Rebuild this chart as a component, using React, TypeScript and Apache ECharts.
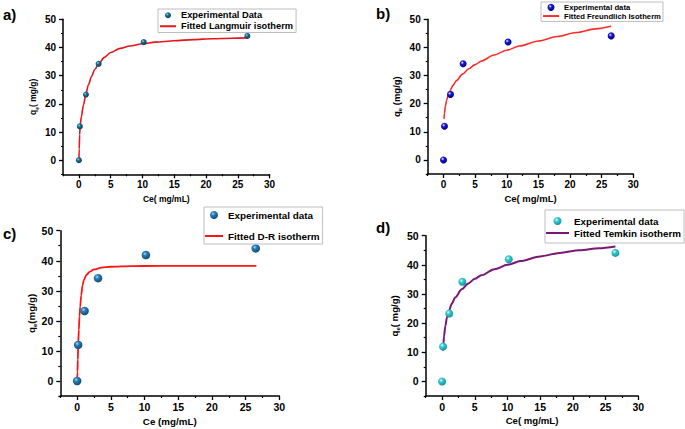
import React, { useEffect, useRef } from "react";
import * as echarts from "echarts";

// Experimental data (same in all four panels)
const ceExp = [0, 0.15, 1.1, 3.1, 10.2, 26.5];
const qeExp = [0, 12, 23.3, 34.2, 41.9, 44.1];

// Fitted curves
const langmuirCe = [0, 0.05, 0.12, 0.2, 0.4, 0.7, 1.1, 1.5, 2, 2.5, 3.1, 4, 5, 6.5, 8, 10, 12, 15, 18, 21, 24, 26.5];
const langmuirQe = [0, 4, 9, 12.5, 15.5, 19.5, 23.4, 26.8, 29.8, 32.2, 34.2, 36.5, 38.2, 39.7, 40.5, 41.3, 41.9, 42.4, 42.8, 43.1, 43.3, 43.4];

const freundlichCe = [0.08, 0.15, 0.3, 0.5, 0.75, 1, 1.5, 2, 3, 4, 5, 6, 8, 10, 12, 15, 18, 21, 24, 26.5];
const freundlichQe = [14.6, 16.6, 19.2, 21.2, 23.1, 24.5, 26.5, 28.1, 30.5, 32.4, 33.9, 35.2, 37.3, 39.0, 40.5, 42.3, 43.9, 45.3, 46.6, 47.5];

const drCe = [0, 0.05, 0.1, 0.15, 0.25, 0.35, 0.45, 0.6, 0.8, 1, 1.4, 1.9, 2.5, 3.6, 5, 8, 12, 18, 26.6];
const drQe = [0, 3, 7, 12, 17, 21.5, 24.7, 28.5, 31.8, 33.6, 35.4, 36.4, 37.1, 37.7, 38, 38.2, 38.3, 38.3, 38.3];

const temkinCe = [0.15, 0.2, 0.3, 0.5, 0.75, 1, 1.5, 2, 3, 4, 5, 6, 8, 10, 12, 15, 18, 21, 24, 26.5];
const temkinQe = [10.6, 12.6, 15.5, 19.0, 21.9, 23.9, 26.7, 28.8, 31.6, 33.6, 35.2, 36.4, 38.5, 40.0, 41.3, 42.9, 44.1, 45.0, 45.7, 46.3];

// Tick labels
const xMajorTicks = [0, 5, 10, 15, 20, 25, 30];
const xMinorTicks = [-2.5, 2.5, 7.5, 12.5, 17.5, 22.5, 27.5];
const yMajorTicks = [0, 10, 20, 30, 40, 50];
const yMinorTicks = [-5, 5, 15, 25, 35, 45];

const FONT = "'Liberation Sans', Arial, sans-serif";

type PanelCfg = {
  label: string;
  labelPos: [number, number];
  grid: { left: number; top: number; width: number; height: number };
  expName: string;
  fitName: string;
  fitCe: number[];
  fitQe: number[];
  marker: { size: number; hi: string; base: string; dark: string };
  lineColor: string;
  lineWidth: number;
  xName: string;
  xGap: number;
  yName: string;
  yGap: number;
  tickFont: number;
  nameFont: number;
  legend: {
    left: number;
    top: number;
    padding: number[];
    itemWidth: number;
    itemHeight: number;
    itemGap: number;
    fontSize: number;
    lineHeight: number;
    fontFamily?: string;
  };
};

function buildOption(p: PanelCfg) {
  const axisColor = "#000";
  const markerColor = new echarts.graphic.RadialGradient(0.38, 0.35, 0.65, [
    { offset: 0, color: p.marker.hi },
    { offset: 0.35, color: p.marker.base },
    { offset: 1, color: p.marker.dark },
  ]);
  const nameStyle = {
    fontFamily: FONT,
    fontWeight: "bold" as const,
    fontSize: p.nameFont,
    color: "#000",
  };
  return {
    animation: false,
    backgroundColor: "transparent",
    graphic: [
      {
        type: "text",
        left: p.labelPos[0],
        top: p.labelPos[1],
        style: { text: p.label, font: `bold 15px ${FONT}`, fill: "#000" },
      },
    ],
    grid: { ...p.grid, containLabel: false },
    legend: {
      orient: "vertical",
      left: p.legend.left,
      top: p.legend.top,
      padding: p.legend.padding,
      itemWidth: p.legend.itemWidth,
      itemHeight: p.legend.itemHeight,
      itemGap: p.legend.itemGap,
      borderColor: "#bdbdbd",
      borderWidth: 1,
      backgroundColor: "#fff",
      textStyle: {
        fontFamily: p.legend.fontFamily || FONT,
        fontWeight: "bold",
        fontSize: p.legend.fontSize,
        lineHeight: p.legend.lineHeight,
        color: "#000",
      },
      data: [
        { name: p.expName, icon: "circle" },
        { name: p.fitName, itemStyle: { opacity: 0 } },
      ],
    },
    xAxis: [
      {
        type: "value",
        min: -2.5,
        max: 30,
        position: "bottom",
        axisLine: { show: true, onZero: false, lineStyle: { color: axisColor, width: 1.5 } },
        axisTick: { show: true, customValues: xMajorTicks, length: 4, lineStyle: { color: axisColor, width: 1.3 } },
        axisLabel: {
          customValues: xMajorTicks,
          fontFamily: FONT,
          fontWeight: "bold",
          fontSize: p.tickFont,
          color: "#000",
          margin: 5,
        },
        splitLine: { show: false },
        name: p.xName,
        nameLocation: "middle",
        nameGap: p.xGap,
        nameTextStyle: nameStyle,
      },
      {
        type: "value",
        min: -2.5,
        max: 30,
        position: "bottom",
        axisLine: { show: false, onZero: false },
        axisTick: { show: true, customValues: xMinorTicks, length: 2, lineStyle: { color: axisColor, width: 1.2 } },
        axisLabel: { show: false },
        splitLine: { show: false },
      },
    ],
    yAxis: [
      {
        type: "value",
        min: -5,
        max: 50,
        position: "left",
        axisLine: { show: true, onZero: false, lineStyle: { color: axisColor, width: 1.5 } },
        axisTick: { show: true, customValues: yMajorTicks, length: 4, lineStyle: { color: axisColor, width: 1.3 } },
        axisLabel: {
          customValues: yMajorTicks,
          fontFamily: FONT,
          fontWeight: "bold",
          fontSize: p.tickFont,
          color: "#000",
          margin: 7,
        },
        splitLine: { show: false },
        name: p.yName,
        nameLocation: "middle",
        nameGap: p.yGap,
        nameRotate: 90,
        nameTextStyle: {
          ...nameStyle,
          rich: {
            n: { ...nameStyle, lineHeight: p.nameFont + 3 },
            s: {
              fontFamily: FONT,
              fontWeight: "bold",
              fontSize: Math.round(p.nameFont * 0.6),
              color: "#000",
              lineHeight: p.nameFont + 3,
              verticalAlign: "bottom",
              padding: [4, 0, 0, 0],
            },
          },
        },
      },
      {
        type: "value",
        min: -5,
        max: 50,
        position: "left",
        axisLine: { show: false, onZero: false },
        axisTick: { show: true, customValues: yMinorTicks, length: 2, lineStyle: { color: axisColor, width: 1.2 } },
        axisLabel: { show: false },
        splitLine: { show: false },
      },
    ],
    series: [
      {
        name: p.fitName,
        type: "line",
        xAxisIndex: 0,
        yAxisIndex: 0,
        data: p.fitCe.map((c, i) => [c, p.fitQe[i]]),
        symbol: "none",
        showSymbol: false,
        smooth: 0.3,
        smoothMonotone: "x",
        lineStyle: { color: p.lineColor, width: p.lineWidth },
        itemStyle: { color: p.lineColor },
        z: 2,
      },
      {
        name: p.expName,
        type: "scatter",
        xAxisIndex: 0,
        yAxisIndex: 0,
        data: ceExp.map((c, i) => [c, qeExp[i]]),
        symbol: "circle",
        symbolSize: p.marker.size,
        itemStyle: { color: markerColor, opacity: 1 },
        z: 3,
      },
    ],
  };
}

const panels: PanelCfg[] = [
  {
    label: "a)",
    labelPos: [3, 7],
    grid: { left: 63, top: 19.3, width: 206.6, height: 155 },
    expName: "Experimental Data",
    fitName: "Fitted Langmuir isotherm",
    fitCe: langmuirCe,
    fitQe: langmuirQe,
    marker: { size: 6, hi: "#a8d8ee", base: "#1d7098", dark: "#0b3c5a" },
    lineColor: "#e3161d",
    lineWidth: 1.6,
    xName: "Ce( mg/mL)",
    xGap: 20,
    yName: "{n|q}{s|e}{n|( mg/g)}",
    yGap: 24,
    tickFont: 10,
    nameFont: 8.5,
    legend: { left: 158, top: 9, padding: [1, 3, 1, 1], itemWidth: 16, itemHeight: 6, itemGap: 0.5, fontSize: 9.3, lineHeight: 10.5 },
  },
  {
    label: "b)",
    labelPos: [376, 6],
    grid: { left: 427.7, top: 19.3, width: 205.6, height: 154.7 },
    expName: "Experimental data",
    fitName: "Fitted Freundlich Isotherm",
    fitCe: freundlichCe,
    fitQe: freundlichQe,
    marker: { size: 7, hi: "#ffffff", base: "#1c1cdc", dark: "#000080" },
    lineColor: "#ff2b2b",
    lineWidth: 1.6,
    xName: "Ce( mg/mL)",
    xGap: 19,
    yName: "{n|q}{s|e}{n| (mg/g)}",
    yGap: 25,
    tickFont: 10,
    nameFont: 9.5,
    legend: { left: 541, top: 2, padding: [1, 2, 1, 1], itemWidth: 16, itemHeight: 7, itemGap: 0, fontSize: 7.7, lineHeight: 8.7 },
  },
  {
    label: "c)",
    labelPos: [3, 226],
    grid: { left: 60.3, top: 230.7, width: 219, height: 165.3 },
    expName: "Experimental data",
    fitName: "Fitted D-R isotherm",
    fitCe: drCe,
    fitQe: drQe,
    marker: { size: 8.5, hi: "#a9dcf6", base: "#2a7db6", dark: "#0e4c78" },
    lineColor: "#ff1414",
    lineWidth: 1.8,
    xName: "Ce (mg/mL)",
    xGap: 20,
    yName: "{n|q}{s|e}{n|(mg/g)}",
    yGap: 20,
    tickFont: 10.5,
    nameFont: 9.8,
    legend: { left: 204, top: 207, padding: [2, 3, 2, 0], itemWidth: 18, itemHeight: 8, itemGap: 9, fontSize: 9.9, lineHeight: 12 },
  },
  {
    label: "d)",
    labelPos: [376, 220],
    grid: { left: 425.7, top: 235.7, width: 212.6, height: 160.3 },
    expName: "Experimental data",
    fitName: "Fitted Temkin isotherm",
    fitCe: temkinCe,
    fitQe: temkinQe,
    marker: { size: 8, hi: "#e6ffff", base: "#3cc9d2", dark: "#11979f" },
    lineColor: "#7a1677",
    lineWidth: 2,
    xName: "Ce( mg/mL)",
    xGap: 19,
    yName: "{n|q}{s|e}{n|( mg/g)}",
    yGap: 25,
    tickFont: 10.5,
    nameFont: 9.6,
    legend: { left: 545, top: 210, padding: [5, 3, 4, 0], itemWidth: 23, itemHeight: 8, itemGap: 0, fontSize: 9.8, lineHeight: 12 },
  },
];

function Panel({ cfg }: { cfg: PanelCfg }) {
  const ref = useRef<HTMLDivElement>(null);
  useEffect(() => {
    if (!ref.current) return;
    const chart = echarts.init(ref.current, undefined, { renderer: "svg" });
    chart.setOption(buildOption(cfg) as any);
    return () => chart.dispose();
  }, [cfg]);
  return (
    <div
      ref={ref}
      style={{ position: "absolute", left: 0, top: 0, width: 685, height: 429 }}
    />
  );
}

export default function App() {
  return (
    <div
      style={{
        position: "fixed",
        left: 0,
        top: 0,
        width: 685,
        height: 429,
        background: "#fff",
        overflow: "hidden",
      }}
    >
      {panels.map((p) => (
        <Panel key={p.label} cfg={p} />
      ))}
    </div>
  );
}
